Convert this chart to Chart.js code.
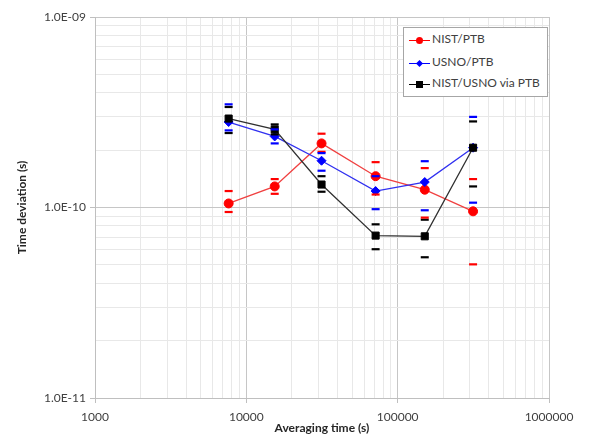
<!DOCTYPE html>
<html>
<head>
<meta charset="utf-8">
<script src="https://cdn.jsdelivr.net/npm/chart.js@4/dist/chart.umd.min.js"></script>
<style>
    body { margin: 0; background: #fff; }
    #wrap { position: relative; width: 590px; height: 444px; }
    #legend {
        position: absolute; left: 403px; top: 27px; width: 143px; height: 68px;
        border: 1px solid #a6a6a6; background: #fff;
        font-family: Lato, sans-serif; font-size: 12px; color: #404040;
    }
    .item { position: absolute; left: 5px; height: 14px; line-height: 14px; white-space: nowrap; }
    .sw { position: absolute; left: 0; top: 7px; width: 21px; height: 0; border-top: 1.5px solid; }
    .mk { position: absolute; }
    .lbl { position: absolute; left: 23px; top: -1px; }
</style>
</head>
<body>
<div id="wrap">
    <canvas id="chart" width="590" height="444"></canvas>
    <div id="legend"></div>
</div>
<script>
// Dati
const tau = [7640, 15400, 31400, 71500, 151000, 315000];
const seriesNames = ['NIST/PTB', 'USNO/PTB', 'NIST/USNO via PTB'];

const nistPtb      = [1.05e-10, 1.29e-10, 2.17e-10, 1.46e-10, 1.24e-10, 9.55e-11];
const nistPtbUp    = [1.22e-10, 1.41e-10, 2.44e-10, 1.73e-10, 1.61e-10, 1.41e-10];
const nistPtbLo    = [9.47e-11, 1.18e-10, 1.96e-10, 1.17e-10, 8.85e-11, 5.03e-11];

const usnoPtb      = [2.81e-10, 2.36e-10, 1.76e-10, 1.22e-10, 1.36e-10, 2.06e-10];
const usnoPtbUp    = [3.48e-10, 2.57e-10, 1.93e-10, 1.46e-10, 1.75e-10, 2.99e-10];
const usnoPtbLo    = [2.54e-10, 2.17e-10, 1.56e-10, 9.80e-11, 9.67e-11, 1.06e-10];

const nistUsno     = [2.93e-10, 2.57e-10, 1.32e-10, 7.12e-11, 7.06e-11, 2.06e-10];
const nistUsnoUp   = [3.37e-10, 2.73e-10, 1.46e-10, 8.16e-11, 8.63e-11, 2.83e-10];
const nistUsnoLo   = [2.46e-10, 2.42e-10, 1.21e-10, 6.04e-11, 5.48e-11, 1.29e-10];

const xTickValues = [1000, 10000, 100000, 1000000];
const xTickLabels = ['1000', '10000', '100000', '1000000'];
const yTickValues = [1e-11, 1e-10, 1e-9];
const yTickLabels = ['1.0E-11', '1.0E-10', '1.0E-09'];

const colors = ['#ff0000', '#0000ff', '#000000'];
const lineColors = ['#f04040', '#3030f0', '#303030'];
const styles = ['circle', 'rectRot', 'rect'];
const radii = [4.5, 4.5, 5];

function pts(ys) {
    return tau.map((t, i) => ({ x: t, y: ys[i] }));
}

function errPts(up, lo) {
    return pts(up).concat(pts(lo));
}

// tutte le tacche 1..9 x 10^n tra min e max
function logTicks(min, max) {
    const out = [];
    let dec = Math.round(Math.log10(min));
    const top = Math.round(Math.log10(max));
    for (; dec <= top; dec++) {
        for (let m = 1; m <= 9; m++) {
            const v = m * Math.pow(10, dec);
            if (v > max * 1.0001) break;
            out.push({ value: v, major: m === 1 });
        }
    }
    return out;
}

function labelFor(values, labels, v) {
    const i = values.findIndex(t => Math.abs(t - v) / t < 1e-6);
    return i >= 0 ? labels[i] : '';
}

const mainData = [nistPtb, usnoPtb, nistUsno];
const upData = [nistPtbUp, usnoPtbUp, nistUsnoUp];
const loData = [nistPtbLo, usnoPtbLo, nistUsnoLo];
const lineOrder = [5, 4, 3];
const errOrder = [1, 0, 2];

const datasets = [];
mainData.forEach((d, i) => {
    datasets.push({
        label: seriesNames[i],
        data: pts(d),
        showLine: true,
        borderColor: lineColors[i],
        backgroundColor: colors[i],
        pointBorderColor: colors[i],
        borderWidth: 1.3,
        pointStyle: styles[i],
        pointRadius: radii[i],
        pointBorderWidth: 1,
        order: lineOrder[i]
    });
    datasets.push({
        label: seriesNames[i] + ' err',
        data: errPts(upData[i], loData[i]),
        showLine: false,
        pointStyle: 'line',
        pointRadius: 4,
        pointBorderWidth: 2.2,
        borderColor: colors[i],
        backgroundColor: colors[i],
        order: errOrder[i]
    });
});

const gridMajor = '#c6c6c6';
const gridMinor = '#e8e8e8';

new Chart(document.getElementById('chart').getContext('2d'), {
    type: 'scatter',
    data: { datasets: datasets },
    options: {
        responsive: false,
        animation: false,
        layout: { padding: { left: 0, top: 17, right: 41, bottom: 9 } },
        plugins: { legend: { display: false }, tooltip: { enabled: false } },
        scales: {
            x: {
                type: 'logarithmic',
                min: 1000,
                max: 1000000,
                afterBuildTicks: s => { s.ticks = logTicks(1000, 1000000); },
                afterFit: s => { s.height = 37; },
                ticks: {
                    autoSkip: false,
                    maxRotation: 0,
                    padding: 7,
                    color: '#404040',
                    font: { family: 'Lato', size: 12 },
                    callback: v => labelFor(xTickValues, xTickLabels, v)
                },
                grid: {
                    color: c => c.tick && c.tick.major ? gridMajor : gridMinor,
                    tickColor: c => c.tick && c.tick.major ? '#bfbfbf' : 'rgba(0,0,0,0)',
                    tickLength: 5
                },
                border: { color: '#bfbfbf' },
                title: {
                    display: true,
                    text: 'Averaging time (s)',
                    color: '#262626',
                    font: { family: 'Lato', size: 12, weight: 'bold' },
                    padding: { top: 2, bottom: 0 }
                }
            },
            y: {
                type: 'logarithmic',
                min: 1e-11,
                max: 1e-9,
                afterBuildTicks: s => { s.ticks = logTicks(1e-11, 1e-9); },
                afterFit: s => { s.width = 95; },
                ticks: {
                    autoSkip: false,
                    padding: 4,
                    color: '#404040',
                    font: { family: 'Lato', size: 12 },
                    callback: v => labelFor(yTickValues, yTickLabels, v)
                },
                grid: {
                    color: c => c.tick && c.tick.major ? gridMajor : gridMinor,
                    tickColor: c => c.tick && c.tick.major ? '#bfbfbf' : 'rgba(0,0,0,0)',
                    tickLength: 5
                },
                border: { color: '#bfbfbf' },
                title: {
                    display: true,
                    text: 'Time deviation (s)',
                    color: '#262626',
                    font: { family: 'Lato', size: 12, weight: 'bold' },
                    padding: { top: 15, bottom: 0 }
                }
            }
        }
    }
});

// Legenda HTML
const legend = document.getElementById('legend');
const rowTops = [5, 28, 49];
seriesNames.forEach((name, i) => {
    const item = document.createElement('div');
    item.className = 'item';
    item.style.top = rowTops[i] + 'px';
    const sw = document.createElement('div');
    sw.className = 'sw';
    sw.style.borderColor = colors[i];
    item.appendChild(sw);
    const mk = document.createElement('div');
    mk.className = 'mk';
    mk.style.background = colors[i];
    if (i === 0) {
        mk.style.cssText += 'left:7px;top:4px;width:7px;height:7px;border-radius:50%;';
    } else if (i === 1) {
        mk.style.cssText += 'left:8px;top:5px;width:5px;height:5px;transform:rotate(45deg);';
    } else {
        mk.style.cssText += 'left:7px;top:4px;width:7px;height:7px;';
    }
    item.appendChild(mk);
    const lbl = document.createElement('span');
    lbl.className = 'lbl';
    lbl.textContent = name;
    item.appendChild(lbl);
    legend.appendChild(item);
});
</script>
</body>
</html>
